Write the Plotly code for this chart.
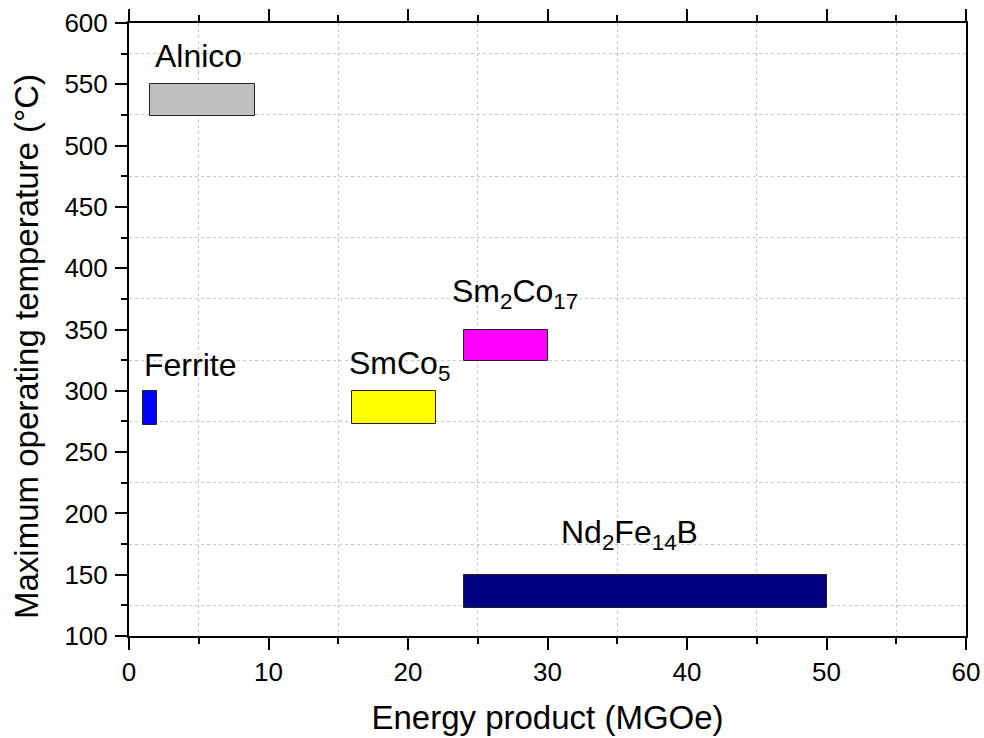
import plotly.graph_objects as go

# Permanent magnet families: energy product range (MGOe) vs max operating temperature (°C)
materials = ["Alnico", "Ferrite", "SmCo5", "Sm2Co17", "Nd2Fe14B"]
labels = ["Alnico", "Ferrite", "SmCo<sub>5</sub>", "Sm<sub>2</sub>Co<sub>17</sub>",
          "Nd<sub>2</sub>Fe<sub>14</sub>B"]
bh_min = [1.5, 1.0, 16.0, 24.0, 24.0]
bh_max = [9.0, 2.0, 22.0, 30.0, 50.0]
t_min = [524, 272, 273, 324, 123]
t_max = [550, 300, 300, 350, 150]
colors = ["#C0C0C0", "#0000FF", "#FFFF00", "#FF00FF", "#000080"]
# label anchor positions (data coordinates, left-aligned)
label_x = [1.75, 0.95, 15.6, 23.0, 30.85]
label_y = [573, 321, 321, 379, 183]

FONT = "Liberation Sans, Arial, sans-serif"

fig = go.Figure()
for i, name in enumerate(materials):
    fig.add_trace(go.Bar(
        orientation="h",
        y=[(t_min[i] + t_max[i]) / 2],
        x=[bh_max[i] - bh_min[i]],
        base=[bh_min[i]],
        width=[t_max[i] - t_min[i]],
        marker=dict(color=colors[i], line=dict(color="#222222", width=1)),
        name=name,
        showlegend=False,
        hoverinfo="skip",
    ))
    fig.add_annotation(
        x=label_x[i], y=label_y[i], text=labels[i], showarrow=False,
        xanchor="left", yanchor="middle",
        font=dict(family=FONT, size=32, color="black"),
    )

# vertical axis title, placed as a rotated annotation left of the tick labels
fig.add_annotation(
    x=0, y=0.4715, xref="paper", yref="paper", xshift=-102,
    text="Maximum operating temperature (°C)", textangle=-90, showarrow=False,
    xanchor="center", yanchor="middle",
    font=dict(family=FONT, size=33, color="black"),
)

axis_common = dict(
    showline=True, linecolor="black", linewidth=2,
    ticks="outside", ticklen=12, tickwidth=2, tickcolor="black",
    showgrid=False, zeroline=False, automargin=False,
    tickfont=dict(family=FONT, size=26, color="black"),
)

fig.update_xaxes(
    range=[0, 60], dtick=10, tick0=0, mirror="ticks",
    minor=dict(dtick=5, ticklen=6, tickwidth=2, tickcolor="black",
               showgrid=True, gridcolor="#C8C8C8", griddash="dot", gridwidth=1),
    title=dict(text="Energy product (MGOe)", font=dict(family=FONT, size=33, color="black"),
               standoff=20),
    **axis_common,
)
fig.update_yaxes(
    range=[100, 600], dtick=50, tick0=100, mirror=True, ticklabelstandoff=2,
    minor=dict(dtick=25, ticklen=6, tickwidth=2, tickcolor="black",
               showgrid=True, gridcolor="#C8C8C8", griddash="dot", gridwidth=1),
    **axis_common,
)

fig.update_layout(
    width=984, height=738,
    margin=dict(l=129, r=18, t=23, b=102),
    plot_bgcolor="white", paper_bgcolor="white",
    barmode="overlay", bargap=0,
    font=dict(family=FONT),
)

fig.write_html("out.html")
